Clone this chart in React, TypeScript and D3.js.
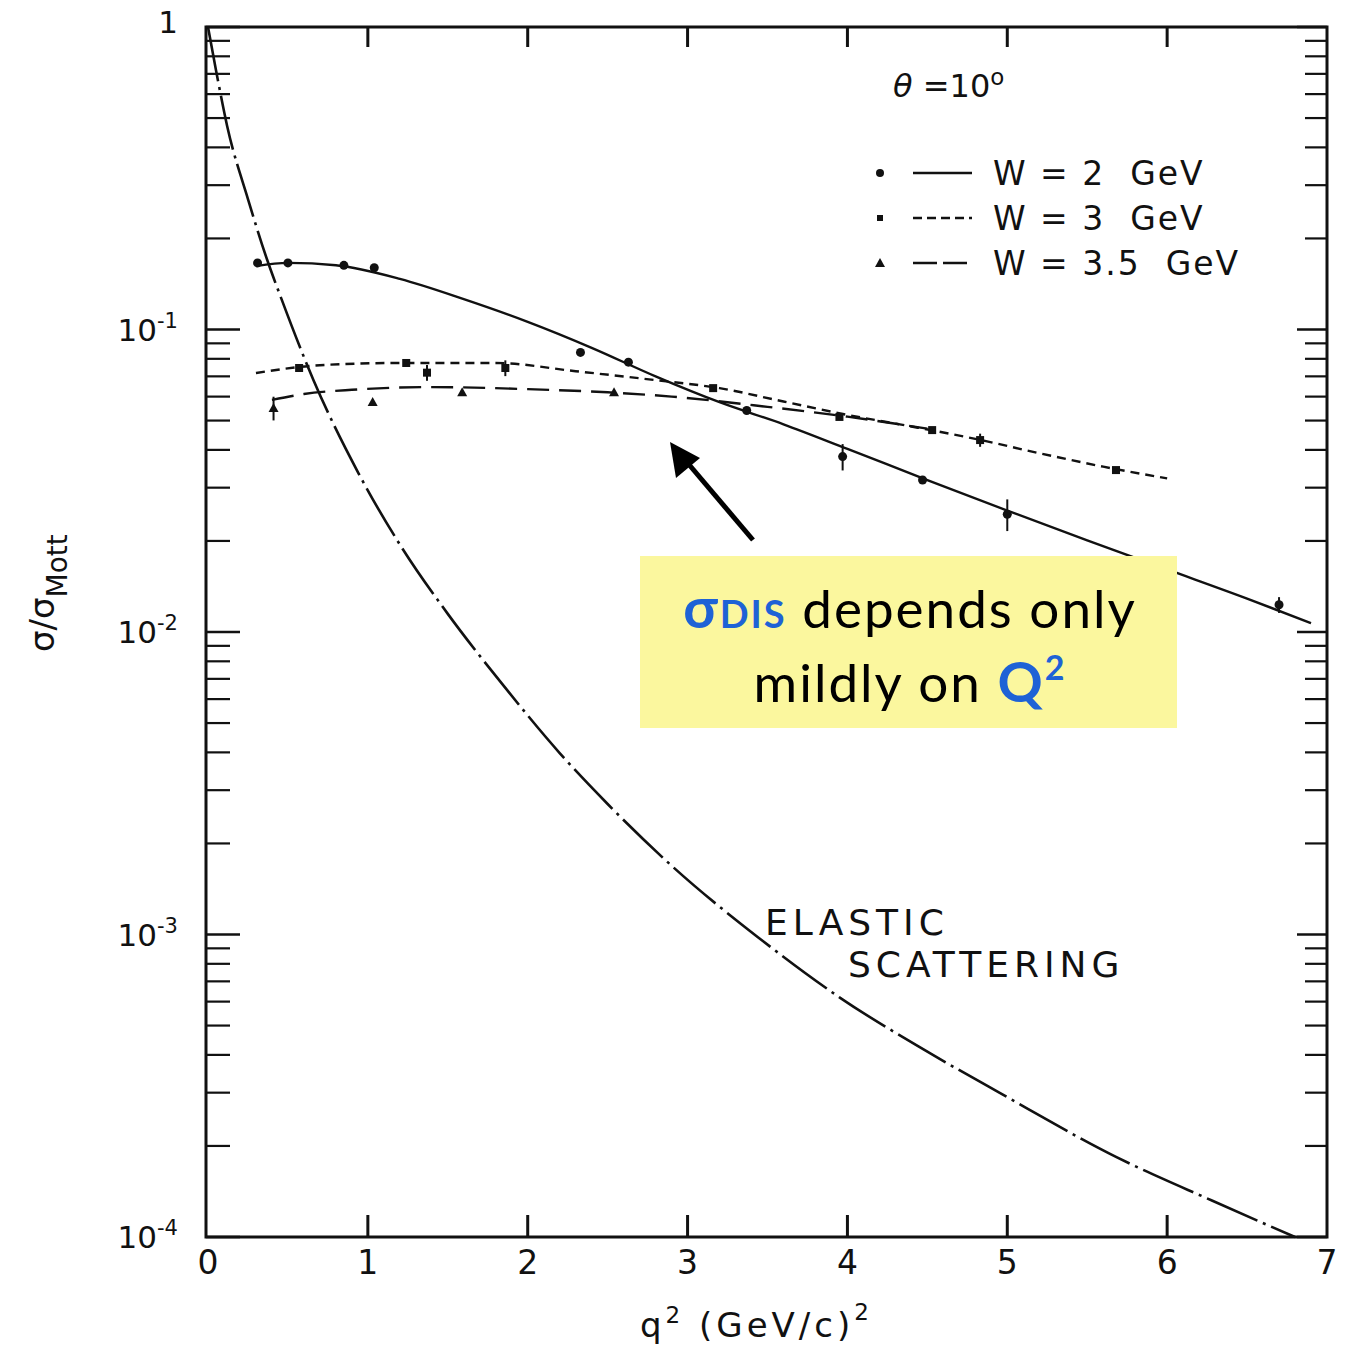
import React from 'react';
import * as d3 from 'd3';

// curves: [q2, sigma/sigmaMott]
const w2Curve = [[0.3, 0.162], [0.5, 0.166], [0.8, 0.163], [1.2, 0.147], [1.6, 0.126], [2.0, 0.106], [2.4, 0.087], [2.8, 0.070], [3.2, 0.0575], [3.6, 0.0486], [4.0, 0.0403], [4.5, 0.0318], [5.0, 0.0252], [5.5, 0.0201], [6.0, 0.0161], [6.5, 0.0129], [6.9, 0.0107]];
const w3Curve = [[0.3, 0.0718], [0.7, 0.0762], [1.2, 0.0775], [1.8, 0.0775], [2.3, 0.0728], [2.8, 0.068], [3.2, 0.064], [3.6, 0.0578], [4.0, 0.0522], [4.4, 0.0478], [4.8, 0.0435], [5.2, 0.039], [5.6, 0.0352], [6.0, 0.0322]];
const w35Curve = [[0.4, 0.0585], [0.6, 0.0612], [0.9, 0.0632], [1.4, 0.0645], [2.0, 0.0635], [2.5, 0.062], [2.9, 0.060], [3.5, 0.0555], [4.0, 0.0515], [4.5, 0.047]];
const elasticCurve = [[0, 1.0], [0.05, 0.72], [0.12, 0.47], [0.25, 0.27], [0.37, 0.17], [0.46, 0.126], [0.66, 0.068], [0.94, 0.0336], [1.21, 0.0191], [1.5, 0.01148], [1.83, 0.00684], [2.2, 0.00398], [2.5, 0.0027], [2.91, 0.00167], [3.44, 0.00098], [3.95, 0.00062], [4.5, 0.00041], [4.95, 0.0003], [5.68, 0.000184], [6.28, 0.000132], [6.8, 0.0001]];

// data points: [q2, value, relative error (0 = none drawn)]
const w2Points = [[0.31, 0.166, 0], [0.5, 0.166, 0], [0.85, 0.163, 0], [1.04, 0.16, 0], [2.33, 0.084, 0], [2.63, 0.078, 0], [3.37, 0.054, 0], [3.97, 0.038, 0.1], [4.47, 0.0318, 0], [5.0, 0.0245, 0.12], [6.7, 0.0123, 0.06]];
const w3Points = [[0.57, 0.0746, 0], [1.24, 0.0775, 0], [1.37, 0.072, 0.06], [1.86, 0.0746, 0.06], [3.16, 0.064, 0], [3.95, 0.0514, 0], [4.53, 0.0465, 0], [4.83, 0.0431, 0.05], [5.68, 0.0343, 0]];
const w35Points = [[0.41, 0.055, 0.09], [1.03, 0.0576, 0], [1.59, 0.062, 0], [2.54, 0.062, 0]];

const xTicks = [0, 1, 2, 3, 4, 5, 6, 7];
const yDecades = [1, 1e-1, 1e-2, 1e-3, 1e-4];
const yExps = ['', '-1', '-2', '-3', '-4'];
const legendLabels = ['W = 2\u00a0\u00a0GeV', 'W = 3\u00a0\u00a0GeV', 'W = 3.5\u00a0\u00a0GeV'];

const font = '"DejaVu Sans", sans-serif';

export default function App() {
  const left = 206, right = 1327, top = 27, bottom = 1237;
  const x = d3.scaleLinear().domain([0, 7]).range([left + 2, right]);
  const y = d3.scaleLog().domain([1e-4, 1]).range([bottom, top]);
  const line = d3.line<number[]>().x(d => x(d[0])).y(d => y(d[1])).curve(d3.curveMonotoneX);

  const minor: number[] = [];
  yDecades.slice(1).forEach(d => { for (let k = 2; k <= 9; k++) minor.push(d * k); });

  const errBar = (p: number[], i: number) => p[2] > 0 ? (
    <line key={'e' + i} x1={x(p[0])} x2={x(p[0])} y1={y(p[1] * (1 + p[2]))} y2={y(p[1] * (1 - p[2]))} stroke="#111" strokeWidth={2} />
  ) : null;

  const tri = (cx: number, cy: number, s: number) => `M${cx},${cy - s}L${cx + s},${cy + s * 0.8}L${cx - s},${cy + s * 0.8}Z`;

  return (
    <svg width={1358} height={1346} style={{ position: 'absolute', left: 0, top: 0, background: '#fff' }} fontFamily={font}>
      {/* frame */}
      <rect x={left} y={top} width={right - left} height={bottom - top} fill="none" stroke="#111" strokeWidth={3} />

      {/* y ticks, both sides */}
      {yDecades.map(v => (
        <g key={'M' + v}>
          <line x1={left} x2={left + 34} y1={y(v)} y2={y(v)} stroke="#111" strokeWidth={2.5} />
          <line x1={right} x2={right - 30} y1={y(v)} y2={y(v)} stroke="#111" strokeWidth={2.5} />
        </g>
      ))}
      {minor.map(v => (
        <g key={'m' + v}>
          <line x1={left} x2={left + 24} y1={y(v)} y2={y(v)} stroke="#111" strokeWidth={2.2} />
          <line x1={right} x2={right - 22} y1={y(v)} y2={y(v)} stroke="#111" strokeWidth={2.2} />
        </g>
      ))}
      {yDecades.map((v, i) => (
        <text key={'yl' + v} x={178} y={y(v) + (i === 0 ? 6 : 11)} textAnchor="end" fontSize={31} fill="#111">
          {i === 0 ? '1' : '10'}
          {yExps[i] && <tspan dy={-13} fontSize={21}>{yExps[i]}</tspan>}
        </text>
      ))}

      {/* x ticks, top and bottom */}
      {xTicks.slice(1, -1).map(v => (
        <g key={'xt' + v}>
          <line x1={x(v)} x2={x(v)} y1={top} y2={top + 20} stroke="#111" strokeWidth={3} />
          <line x1={x(v)} x2={x(v)} y1={bottom} y2={bottom - 22} stroke="#111" strokeWidth={3} />
        </g>
      ))}
      {xTicks.map(v => (
        <text key={'xl' + v} x={x(v)} y={1274} textAnchor="middle" fontSize={33} fill="#111">{v}</text>
      ))}
      <text x={640} y={1337} fontSize={34} letterSpacing={4} fill="#111">
        q<tspan dy={-14} fontSize={23}>2</tspan><tspan dy={14}>{'\u00a0(GeV/c)'}</tspan><tspan dy={-17} fontSize={23}>2</tspan>
      </text>

      {/* y title */}
      <text transform="translate(54,652) rotate(-90)" fontSize={34} fill="#111">
        σ/σ<tspan dy={13} fontSize={28}>Mott</tspan>
      </text>

      {/* curves */}
      <path d={line(elasticCurve as any) || ''} fill="none" stroke="#111" strokeWidth={2.6} strokeDasharray="55,6,3,6" />
      <path d={line(w2Curve as any) || ''} fill="none" stroke="#111" strokeWidth={2.4} />
      <path d={line(w3Curve as any) || ''} fill="none" stroke="#111" strokeWidth={2.4} strokeDasharray="9,6" />
      <path d={line(w35Curve as any) || ''} fill="none" stroke="#111" strokeWidth={2.4} strokeDasharray="22,10" />

      {/* points */}
      {w2Points.map((p, i) => (
        <g key={'p2' + i}>
          {errBar(p, i)}
          <circle cx={x(p[0])} cy={y(p[1])} r={4.5} fill="#111" />
        </g>
      ))}
      {w3Points.map((p, i) => (
        <g key={'p3' + i}>
          {errBar(p, i)}
          <rect x={x(p[0]) - 4} y={y(p[1]) - 4} width={8} height={8} fill="#111" />
        </g>
      ))}
      {w35Points.map((p, i) => (
        <g key={'p35' + i}>
          {errBar(p, i)}
          <path d={tri(x(p[0]), y(p[1]), 5)} fill="#111" />
        </g>
      ))}

      {/* legend */}
      <text x={893} y={97} fontSize={32} fill="#111"><tspan fontStyle="italic">θ</tspan> =10<tspan dy={-12} fontSize={23}>o</tspan></text>
      {legendLabels.map((lab, i) => {
        const ly = 173 + i * 45;
        return (
          <g key={'lg' + i}>
            {i === 0 && <circle cx={880} cy={ly} r={4} fill="#111" />}
            {i === 1 && <rect x={877} y={ly - 3} width={6} height={6} fill="#111" />}
            {i === 2 && <path d={tri(880, ly, 5)} fill="#111" />}
            <line x1={913} x2={972} y1={ly} y2={ly} stroke="#111" strokeWidth={2.4}
              strokeDasharray={i === 0 ? undefined : i === 1 ? '9,5' : '24,6'} />
            <text x={993} y={ly + 12} fontSize={33} letterSpacing={2} fill="#111">{lab}</text>
          </g>
        );
      })}

      <text x={765} y={935} fontSize={36} letterSpacing={5} fill="#111">ELASTIC</text>
      <text x={848} y={977} fontSize={36} letterSpacing={5} fill="#111">SCATTERING</text>

      {/* annotation */}
      <line x1={753} y1={540} x2={686} y2={461} stroke="#000" strokeWidth={5} />
      <path d="M670,442 L676,478 L700,458 Z" fill="#000" />
      <rect x={640} y={556} width={537} height={172} fill="#fbf79e" />
      <text x={910} y={628} textAnchor="middle" fontSize={53} letterSpacing={2} fontFamily="Lato, sans-serif" fill="#000">
        <tspan fill="#1e62d6" fontWeight="bold" fontSize={56}>σ</tspan><tspan fill="#1e62d6" fontWeight="bold" fontSize={38}>DIS</tspan> depends only
      </text>
      <text x={910} y={702} textAnchor="middle" fontSize={53} letterSpacing={2} fontFamily="Lato, sans-serif" fill="#000">
        mildly on <tspan fill="#1e62d6" fontWeight="bold" fontSize={56}>Q</tspan><tspan fill="#1e62d6" fontWeight="bold" fontSize={34} dy={-22}>2</tspan>
      </text>
    </svg>
  );
}
